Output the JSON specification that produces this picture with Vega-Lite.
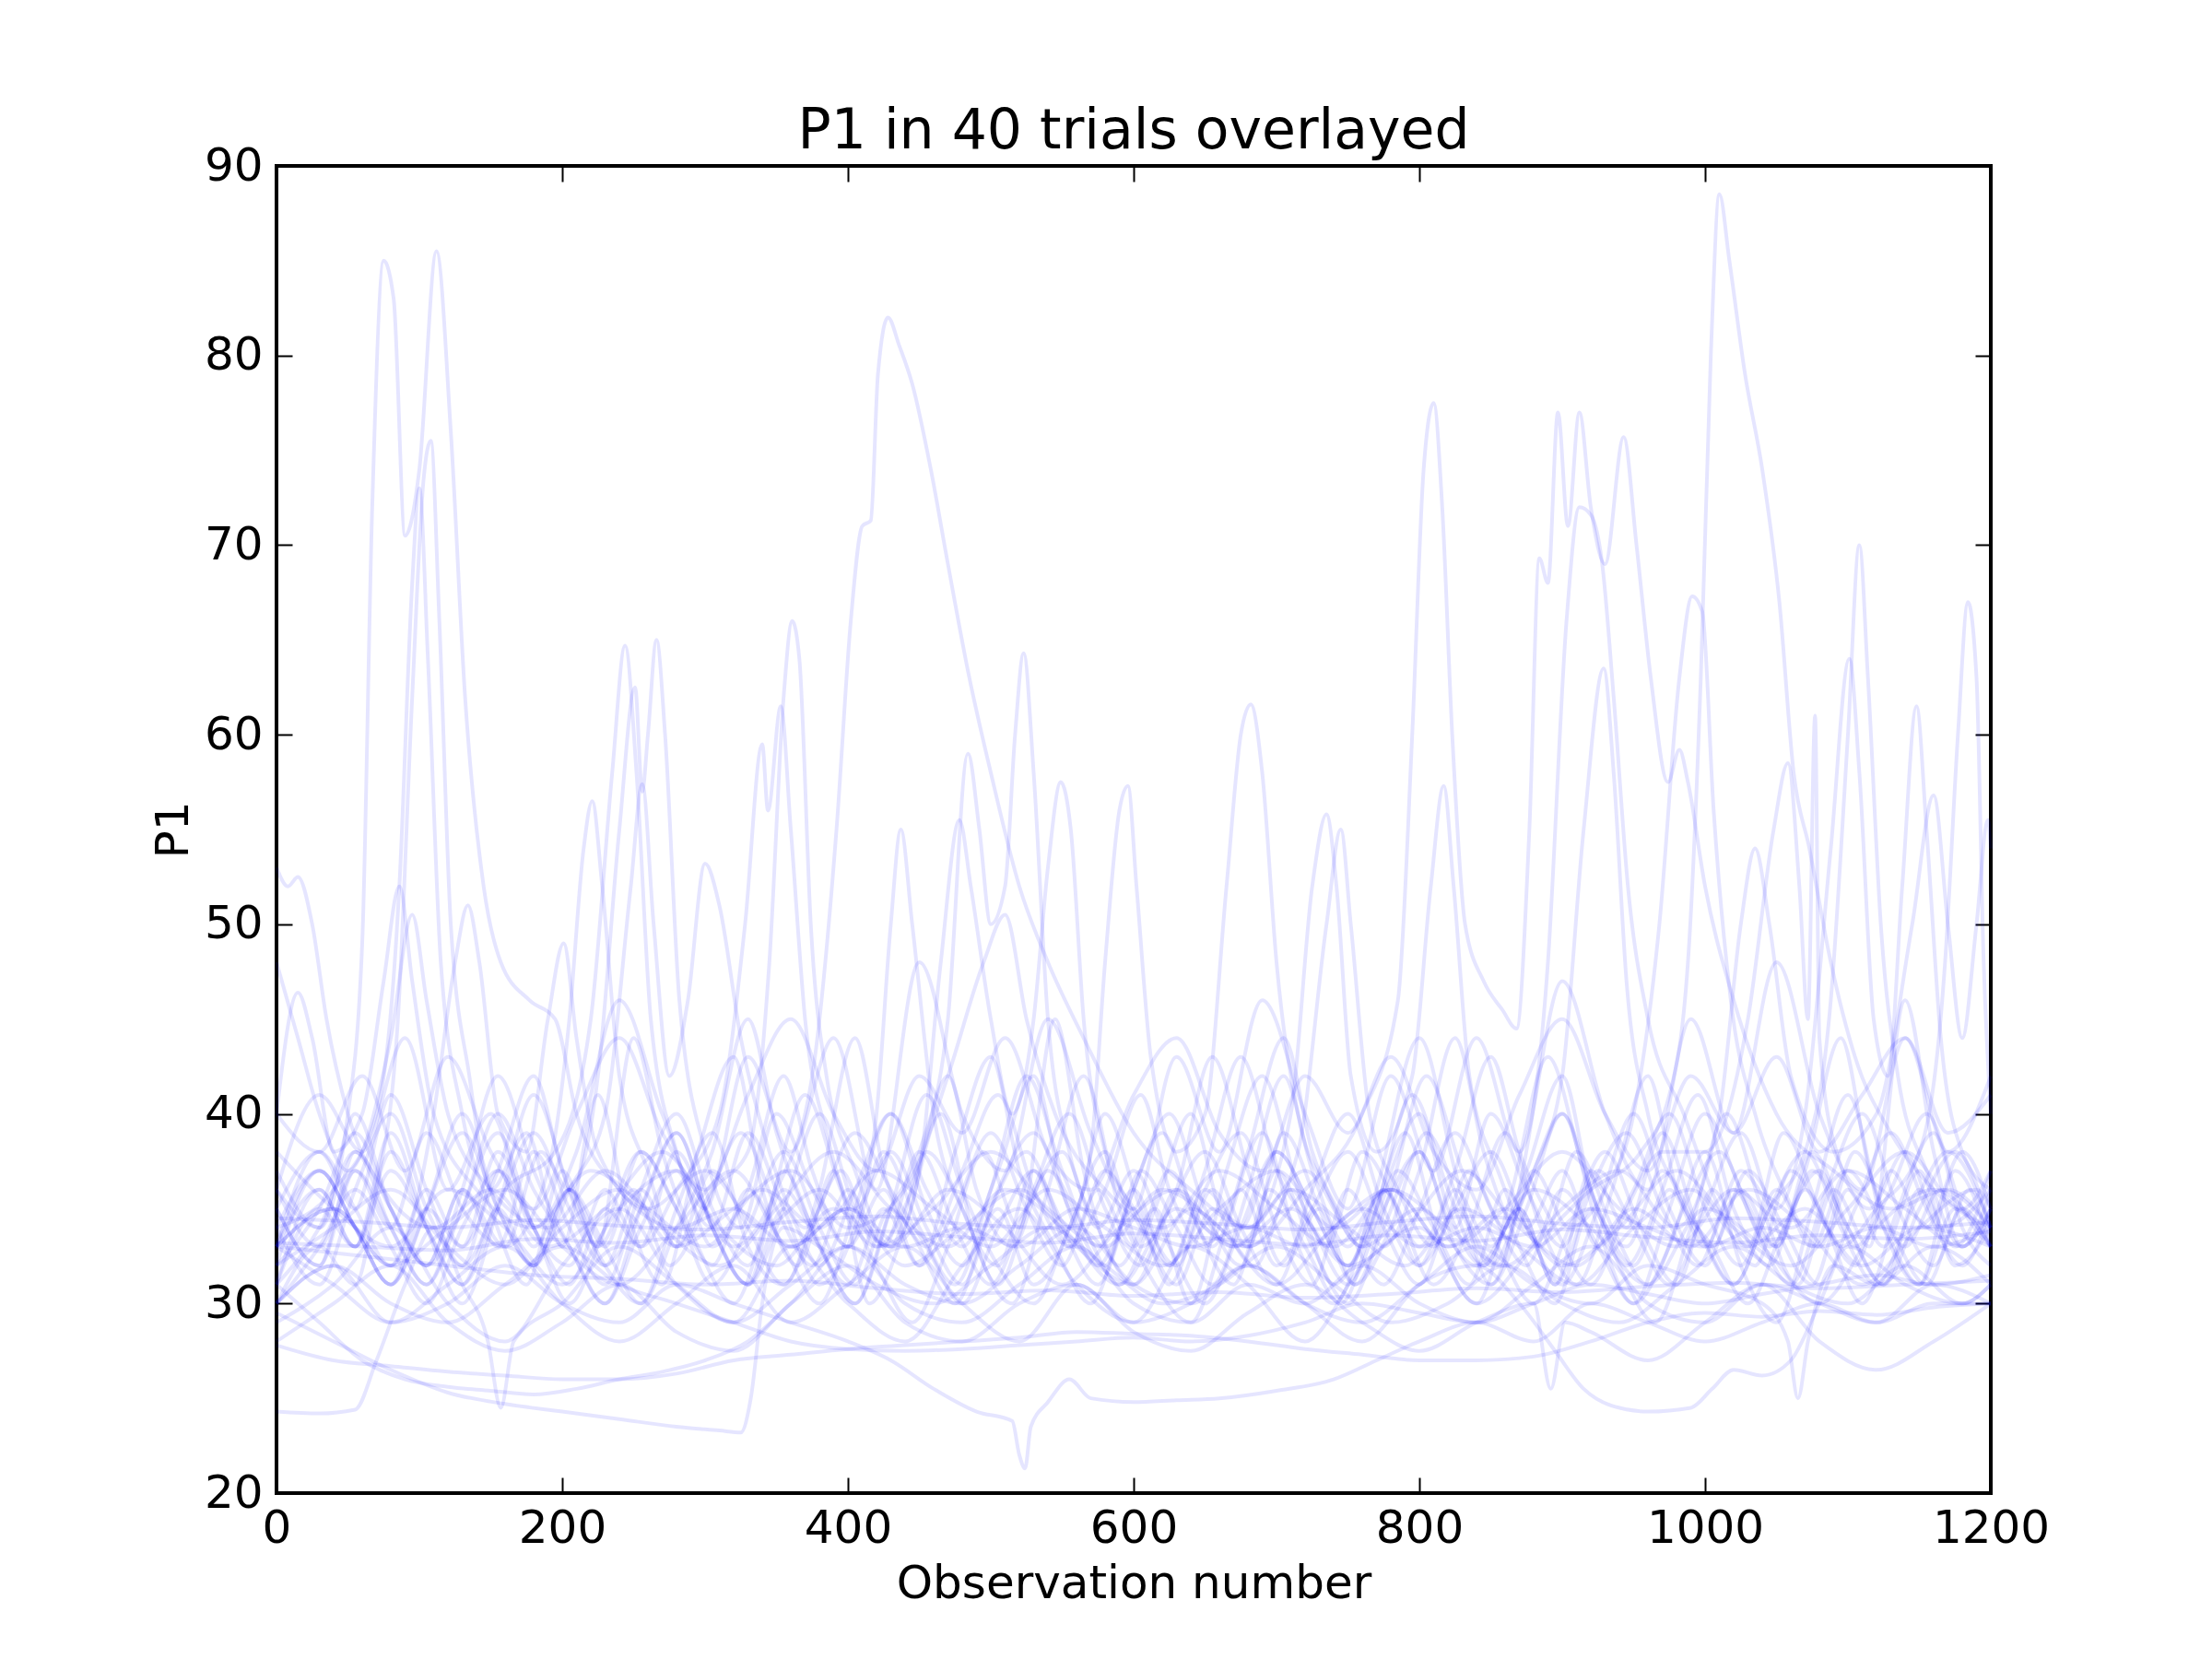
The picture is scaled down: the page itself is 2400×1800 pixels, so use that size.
{
"$schema":"https://vega.github.io/schema/vega-lite/v6.json",
"autosize":{"type":"none"},
"padding":{"left":300,"top":180,"right":240,"bottom":180},
"width":1860,"height":1440,
"background":"white",
"config":{"font":"DejaVu Sans","view":{"stroke":"black","strokeWidth":4}},
"title":{"text":"P1 in 40 trials overlayed","fontSize":60,"font":"DejaVu Sans","fontWeight":"normal","color":"black","anchor":"middle","baseline":"alphabetic","offset":-66},
"data":{"values":[
{"t":1,"x":0,"y":36},{"t":1,"x":30,"y":34},{"t":1,"x":50,"y":40},{"t":1,"x":60,"y":49},{"t":1,"x":67,"y":72},{"t":1,"x":75,"y":85},{"t":1,"x":82,"y":83},{"t":1,"x":90,"y":70.5},{"t":1,"x":100,"y":74},{"t":1,"x":112,"y":85.5},{"t":1,"x":122,"y":76},{"t":1,"x":132,"y":62},{"t":1,"x":145,"y":52},{"t":1,"x":157,"y":48},{"t":1,"x":177,"y":46},{"t":1,"x":195,"y":45},{"t":1,"x":210,"y":40},{"t":1,"x":240,"y":36},{"t":1,"x":280,"y":34},{"t":1,"x":320,"y":35},{"t":1,"x":360,"y":33},{"t":1,"x":400,"y":35},{"t":1,"x":440,"y":33},{"t":1,"x":480,"y":34},{"t":1,"x":520,"y":33},{"t":1,"x":560,"y":35},{"t":1,"x":600,"y":34},{"t":1,"x":640,"y":33},{"t":1,"x":680,"y":34},{"t":1,"x":720,"y":33},{"t":1,"x":760,"y":35},{"t":1,"x":800,"y":33},{"t":1,"x":840,"y":34},{"t":1,"x":880,"y":33},{"t":1,"x":920,"y":35},{"t":1,"x":960,"y":34},{"t":1,"x":1000,"y":33},{"t":1,"x":1040,"y":34},{"t":1,"x":1080,"y":33},{"t":1,"x":1120,"y":34},{"t":1,"x":1160,"y":33},{"t":1,"x":1200,"y":34},
{"t":2,"x":0,"y":30},{"t":2,"x":30,"y":33},{"t":2,"x":55,"y":31},{"t":2,"x":70,"y":36},{"t":2,"x":85,"y":45},{"t":2,"x":95,"y":62},{"t":2,"x":103,"y":73.5},{"t":2,"x":108,"y":75.5},{"t":2,"x":114,"y":66},{"t":2,"x":122,"y":50},{"t":2,"x":135,"y":42},{"t":2,"x":150,"y":36},{"t":2,"x":175,"y":39},{"t":2,"x":200,"y":33},{"t":2,"x":225,"y":41},{"t":2,"x":245,"y":35},{"t":2,"x":270,"y":31},{"t":2,"x":295,"y":38},{"t":2,"x":320,"y":43},{"t":2,"x":340,"y":36},{"t":2,"x":365,"y":32},{"t":2,"x":390,"y":37},{"t":2,"x":415,"y":30},{"t":2,"x":440,"y":34},{"t":2,"x":465,"y":40},{"t":2,"x":490,"y":33},{"t":2,"x":515,"y":30},{"t":2,"x":540,"y":36},{"t":2,"x":565,"y":42},{"t":2,"x":590,"y":35},{"t":2,"x":615,"y":31},{"t":2,"x":640,"y":29},{"t":2,"x":665,"y":34},{"t":2,"x":690,"y":39},{"t":2,"x":715,"y":33},{"t":2,"x":740,"y":30},{"t":2,"x":770,"y":36},{"t":2,"x":800,"y":44},{"t":2,"x":825,"y":37},{"t":2,"x":850,"y":31},{"t":2,"x":875,"y":35},{"t":2,"x":900,"y":40},{"t":2,"x":925,"y":34},{"t":2,"x":950,"y":30},{"t":2,"x":975,"y":33},{"t":2,"x":1000,"y":38},{"t":2,"x":1025,"y":32},{"t":2,"x":1050,"y":29},{"t":2,"x":1075,"y":35},{"t":2,"x":1100,"y":41},{"t":2,"x":1125,"y":34},{"t":2,"x":1150,"y":31},{"t":2,"x":1175,"y":37},{"t":2,"x":1200,"y":33},
{"t":3,"x":0,"y":34},{"t":3,"x":40,"y":36},{"t":3,"x":70,"y":40},{"t":3,"x":86,"y":52},{"t":3,"x":95,"y":68},{"t":3,"x":100,"y":73},{"t":3,"x":106,"y":64},{"t":3,"x":115,"y":48},{"t":3,"x":130,"y":40},{"t":3,"x":150,"y":35},{"t":3,"x":175,"y":31},{"t":3,"x":200,"y":37},{"t":3,"x":225,"y":33},{"t":3,"x":250,"y":44},{"t":3,"x":270,"y":38},{"t":3,"x":295,"y":33},{"t":3,"x":320,"y":30},{"t":3,"x":345,"y":35},{"t":3,"x":370,"y":41},{"t":3,"x":395,"y":36},{"t":3,"x":420,"y":32},{"t":3,"x":445,"y":29},{"t":3,"x":470,"y":33},{"t":3,"x":495,"y":38},{"t":3,"x":520,"y":34},{"t":3,"x":545,"y":45},{"t":3,"x":565,"y":37},{"t":3,"x":590,"y":32},{"t":3,"x":615,"y":35},{"t":3,"x":640,"y":30},{"t":3,"x":665,"y":37},{"t":3,"x":690,"y":42},{"t":3,"x":715,"y":36},{"t":3,"x":740,"y":31},{"t":3,"x":765,"y":34},{"t":3,"x":790,"y":39},{"t":3,"x":815,"y":33},{"t":3,"x":840,"y":30},{"t":3,"x":865,"y":36},{"t":3,"x":890,"y":43},{"t":3,"x":915,"y":37},{"t":3,"x":940,"y":32},{"t":3,"x":965,"y":29},{"t":3,"x":990,"y":34},{"t":3,"x":1015,"y":40},{"t":3,"x":1040,"y":35},{"t":3,"x":1065,"y":31},{"t":3,"x":1090,"y":36},{"t":3,"x":1115,"y":33},{"t":3,"x":1140,"y":46},{"t":3,"x":1160,"y":38},{"t":3,"x":1180,"y":33},{"t":3,"x":1200,"y":35},
{"t":4,"x":0,"y":38},{"t":4,"x":40,"y":35},{"t":4,"x":80,"y":33},{"t":4,"x":120,"y":36},{"t":4,"x":160,"y":34},{"t":4,"x":200,"y":31},{"t":4,"x":240,"y":35},{"t":4,"x":280,"y":37},{"t":4,"x":320,"y":33},{"t":4,"x":350,"y":36},{"t":4,"x":375,"y":42},{"t":4,"x":392,"y":55},{"t":4,"x":402,"y":66},{"t":4,"x":410,"y":71},{"t":4,"x":416,"y":71.3},{"t":4,"x":421,"y":79},{"t":4,"x":428,"y":82},{"t":4,"x":436,"y":80.5},{"t":4,"x":445,"y":78.5},{"t":4,"x":458,"y":74},{"t":4,"x":470,"y":69},{"t":4,"x":485,"y":63},{"t":4,"x":500,"y":58},{"t":4,"x":520,"y":52},{"t":4,"x":540,"y":48},{"t":4,"x":565,"y":44},{"t":4,"x":600,"y":39},{"t":4,"x":640,"y":36},{"t":4,"x":680,"y":34},{"t":4,"x":720,"y":37},{"t":4,"x":760,"y":33},{"t":4,"x":800,"y":35},{"t":4,"x":840,"y":32},{"t":4,"x":880,"y":36},{"t":4,"x":920,"y":34},{"t":4,"x":960,"y":31},{"t":4,"x":1000,"y":35},{"t":4,"x":1040,"y":33},{"t":4,"x":1080,"y":30},{"t":4,"x":1120,"y":34},{"t":4,"x":1160,"y":36},{"t":4,"x":1200,"y":33},
{"t":5,"x":0,"y":29},{"t":5,"x":40,"y":31},{"t":5,"x":80,"y":34},{"t":5,"x":120,"y":30},{"t":5,"x":160,"y":28},{"t":5,"x":200,"y":32},{"t":5,"x":240,"y":35},{"t":5,"x":280,"y":31},{"t":5,"x":320,"y":29},{"t":5,"x":360,"y":33},{"t":5,"x":400,"y":30},{"t":5,"x":440,"y":28},{"t":5,"x":480,"y":32},{"t":5,"x":520,"y":35},{"t":5,"x":560,"y":31},{"t":5,"x":600,"y":29},{"t":5,"x":640,"y":33},{"t":5,"x":680,"y":31},{"t":5,"x":720,"y":28},{"t":5,"x":760,"y":32},{"t":5,"x":800,"y":34},{"t":5,"x":840,"y":30},{"t":5,"x":880,"y":33},{"t":5,"x":920,"y":36},{"t":5,"x":955,"y":38},{"t":5,"x":975,"y":41},{"t":5,"x":988,"y":48},{"t":5,"x":997,"y":63},{"t":5,"x":1004,"y":80},{"t":5,"x":1010,"y":88.5},{"t":5,"x":1017,"y":85},{"t":5,"x":1028,"y":79},{"t":5,"x":1040,"y":74},{"t":5,"x":1052,"y":67},{"t":5,"x":1062,"y":58},{"t":5,"x":1073,"y":54},{"t":5,"x":1088,"y":48},{"t":5,"x":1105,"y":43},{"t":5,"x":1130,"y":39},{"t":5,"x":1160,"y":36},{"t":5,"x":1200,"y":34},
{"t":6,"x":0,"y":33},{"t":6,"x":40,"y":35},{"t":6,"x":80,"y":32},{"t":6,"x":120,"y":34},{"t":6,"x":160,"y":36},{"t":6,"x":200,"y":33},{"t":6,"x":240,"y":31},{"t":6,"x":280,"y":34},{"t":6,"x":320,"y":37},{"t":6,"x":360,"y":33},{"t":6,"x":400,"y":35},{"t":6,"x":440,"y":32},{"t":6,"x":480,"y":34},{"t":6,"x":520,"y":36},{"t":6,"x":560,"y":33},{"t":6,"x":600,"y":31},{"t":6,"x":640,"y":35},{"t":6,"x":680,"y":33},{"t":6,"x":720,"y":36},{"t":6,"x":760,"y":40},{"t":6,"x":785,"y":46},{"t":6,"x":795,"y":60},{"t":6,"x":803,"y":74},{"t":6,"x":810,"y":77.5},{"t":6,"x":816,"y":72},{"t":6,"x":823,"y":60},{"t":6,"x":832,"y":50},{"t":6,"x":845,"y":47},{"t":6,"x":858,"y":45.5},{"t":6,"x":868,"y":44.5},{"t":6,"x":877,"y":55},{"t":6,"x":884,"y":69.3},{"t":6,"x":890,"y":68},{"t":6,"x":897,"y":77},{"t":6,"x":904,"y":71},{"t":6,"x":912,"y":77},{"t":6,"x":920,"y":72},{"t":6,"x":930,"y":69},{"t":6,"x":943,"y":75.7},{"t":6,"x":952,"y":70},{"t":6,"x":962,"y":63},{"t":6,"x":974,"y":57.5},{"t":6,"x":982,"y":59.2},{"t":6,"x":988,"y":57.5},{"t":6,"x":1000,"y":52},{"t":6,"x":1020,"y":46},{"t":6,"x":1050,"y":40},{"t":6,"x":1090,"y":37},{"t":6,"x":1130,"y":35},{"t":6,"x":1170,"y":36},{"t":6,"x":1200,"y":34},
{"t":7,"x":0,"y":31},{"t":7,"x":30,"y":36},{"t":7,"x":55,"y":33},{"t":7,"x":80,"y":39},{"t":7,"x":105,"y":34},{"t":7,"x":130,"y":30},{"t":7,"x":155,"y":35},{"t":7,"x":180,"y":41},{"t":7,"x":205,"y":36},{"t":7,"x":230,"y":32},{"t":7,"x":255,"y":30},{"t":7,"x":280,"y":35},{"t":7,"x":305,"y":39},{"t":7,"x":330,"y":33},{"t":7,"x":355,"y":31},{"t":7,"x":380,"y":36},{"t":7,"x":405,"y":44},{"t":7,"x":425,"y":37},{"t":7,"x":450,"y":33},{"t":7,"x":475,"y":30},{"t":7,"x":500,"y":35},{"t":7,"x":525,"y":38},{"t":7,"x":550,"y":34},{"t":7,"x":575,"y":31},{"t":7,"x":600,"y":36},{"t":7,"x":625,"y":40},{"t":7,"x":650,"y":35},{"t":7,"x":675,"y":32},{"t":7,"x":700,"y":37},{"t":7,"x":725,"y":33},{"t":7,"x":750,"y":30},{"t":7,"x":775,"y":34},{"t":7,"x":800,"y":38},{"t":7,"x":825,"y":33},{"t":7,"x":850,"y":31},{"t":7,"x":870,"y":36},{"t":7,"x":890,"y":48},{"t":7,"x":903,"y":66},{"t":7,"x":912,"y":72},{"t":7,"x":920,"y":71.6},{"t":7,"x":928,"y":69},{"t":7,"x":936,"y":62},{"t":7,"x":946,"y":52},{"t":7,"x":960,"y":45},{"t":7,"x":985,"y":40},{"t":7,"x":1010,"y":35},{"t":7,"x":1035,"y":32},{"t":7,"x":1060,"y":37},{"t":7,"x":1085,"y":34},{"t":7,"x":1110,"y":30},{"t":7,"x":1135,"y":35},{"t":7,"x":1160,"y":39},{"t":7,"x":1180,"y":34},{"t":7,"x":1200,"y":32},
{"t":8,"x":0,"y":35},{"t":8,"x":30,"y":32},{"t":8,"x":55,"y":38},{"t":8,"x":80,"y":34},{"t":8,"x":105,"y":31},{"t":8,"x":130,"y":36},{"t":8,"x":155,"y":42},{"t":8,"x":180,"y":37},{"t":8,"x":205,"y":33},{"t":8,"x":230,"y":30},{"t":8,"x":255,"y":35},{"t":8,"x":280,"y":39},{"t":8,"x":305,"y":34},{"t":8,"x":330,"y":31},{"t":8,"x":355,"y":37},{"t":8,"x":380,"y":33},{"t":8,"x":405,"y":30},{"t":8,"x":430,"y":35},{"t":8,"x":455,"y":41},{"t":8,"x":480,"y":36},{"t":8,"x":505,"y":32},{"t":8,"x":530,"y":30},{"t":8,"x":555,"y":34},{"t":8,"x":580,"y":38},{"t":8,"x":605,"y":33},{"t":8,"x":630,"y":36},{"t":8,"x":655,"y":43},{"t":8,"x":680,"y":37},{"t":8,"x":705,"y":32},{"t":8,"x":730,"y":35},{"t":8,"x":755,"y":31},{"t":8,"x":780,"y":34},{"t":8,"x":805,"y":39},{"t":8,"x":830,"y":35},{"t":8,"x":855,"y":32},{"t":8,"x":880,"y":37},{"t":8,"x":905,"y":34},{"t":8,"x":930,"y":36},{"t":8,"x":950,"y":40},{"t":8,"x":968,"y":50},{"t":8,"x":982,"y":63},{"t":8,"x":991,"y":67.3},{"t":8,"x":998,"y":66.5},{"t":8,"x":1006,"y":56},{"t":8,"x":1018,"y":46},{"t":8,"x":1035,"y":40},{"t":8,"x":1055,"y":36},{"t":8,"x":1080,"y":33},{"t":8,"x":1105,"y":38},{"t":8,"x":1130,"y":34},{"t":8,"x":1155,"y":31},{"t":8,"x":1180,"y":35},{"t":8,"x":1200,"y":33},
{"t":9,"x":0,"y":32},{"t":9,"x":30,"y":37},{"t":9,"x":55,"y":34},{"t":9,"x":80,"y":31},{"t":9,"x":105,"y":35},{"t":9,"x":130,"y":40},{"t":9,"x":155,"y":35},{"t":9,"x":180,"y":32},{"t":9,"x":205,"y":36},{"t":9,"x":230,"y":33},{"t":9,"x":255,"y":30},{"t":9,"x":280,"y":34},{"t":9,"x":305,"y":38},{"t":9,"x":330,"y":45},{"t":9,"x":350,"y":39},{"t":9,"x":375,"y":34},{"t":9,"x":400,"y":31},{"t":9,"x":425,"y":35},{"t":9,"x":450,"y":32},{"t":9,"x":475,"y":38},{"t":9,"x":500,"y":43},{"t":9,"x":520,"y":37},{"t":9,"x":545,"y":33},{"t":9,"x":570,"y":30},{"t":9,"x":595,"y":35},{"t":9,"x":620,"y":39},{"t":9,"x":645,"y":34},{"t":9,"x":670,"y":31},{"t":9,"x":695,"y":36},{"t":9,"x":720,"y":33},{"t":9,"x":745,"y":30},{"t":9,"x":770,"y":35},{"t":9,"x":795,"y":41},{"t":9,"x":820,"y":36},{"t":9,"x":845,"y":32},{"t":9,"x":870,"y":35},{"t":9,"x":895,"y":31},{"t":9,"x":920,"y":37},{"t":9,"x":945,"y":34},{"t":9,"x":970,"y":39},{"t":9,"x":995,"y":34},{"t":9,"x":1020,"y":31},{"t":9,"x":1045,"y":35},{"t":9,"x":1070,"y":38},{"t":9,"x":1088,"y":46},{"t":9,"x":1100,"y":60},{"t":9,"x":1108,"y":70},{"t":9,"x":1114,"y":63},{"t":9,"x":1123,"y":50},{"t":9,"x":1135,"y":42},{"t":9,"x":1155,"y":37},{"t":9,"x":1180,"y":33},{"t":9,"x":1200,"y":36},
{"t":10,"x":0,"y":34},{"t":10,"x":30,"y":31},{"t":10,"x":55,"y":36},{"t":10,"x":80,"y":40},{"t":10,"x":105,"y":35},{"t":10,"x":130,"y":32},{"t":10,"x":155,"y":37},{"t":10,"x":180,"y":34},{"t":10,"x":205,"y":30},{"t":10,"x":230,"y":34},{"t":10,"x":255,"y":38},{"t":10,"x":280,"y":35},{"t":10,"x":305,"y":32},{"t":10,"x":330,"y":36},{"t":10,"x":355,"y":33},{"t":10,"x":380,"y":30},{"t":10,"x":405,"y":35},{"t":10,"x":430,"y":40},{"t":10,"x":455,"y":36},{"t":10,"x":480,"y":33},{"t":10,"x":505,"y":37},{"t":10,"x":530,"y":42},{"t":10,"x":550,"y":36},{"t":10,"x":575,"y":32},{"t":10,"x":600,"y":35},{"t":10,"x":625,"y":31},{"t":10,"x":650,"y":36},{"t":10,"x":675,"y":39},{"t":10,"x":700,"y":34},{"t":10,"x":725,"y":31},{"t":10,"x":750,"y":36},{"t":10,"x":775,"y":33},{"t":10,"x":800,"y":37},{"t":10,"x":825,"y":44},{"t":10,"x":845,"y":38},{"t":10,"x":870,"y":33},{"t":10,"x":895,"y":30},{"t":10,"x":920,"y":35},{"t":10,"x":945,"y":32},{"t":10,"x":970,"y":36},{"t":10,"x":995,"y":41},{"t":10,"x":1020,"y":35},{"t":10,"x":1045,"y":32},{"t":10,"x":1070,"y":36},{"t":10,"x":1095,"y":33},{"t":10,"x":1120,"y":35},{"t":10,"x":1150,"y":38},{"t":10,"x":1168,"y":48},{"t":10,"x":1177,"y":60},{"t":10,"x":1184,"y":67},{"t":10,"x":1190,"y":63},{"t":10,"x":1195,"y":48},{"t":10,"x":1200,"y":40},
{"t":11,"x":0,"y":33},{"t":11,"x":30,"y":38},{"t":11,"x":55,"y":35},{"t":11,"x":80,"y":41},{"t":11,"x":105,"y":36},{"t":11,"x":130,"y":32},{"t":11,"x":160,"y":36},{"t":11,"x":195,"y":38},{"t":11,"x":220,"y":45},{"t":11,"x":235,"y":58},{"t":11,"x":244,"y":64.7},{"t":11,"x":252,"y":58},{"t":11,"x":262,"y":45},{"t":11,"x":280,"y":38},{"t":11,"x":305,"y":34},{"t":11,"x":330,"y":39},{"t":11,"x":355,"y":35},{"t":11,"x":380,"y":31},{"t":11,"x":400,"y":33},{"t":11,"x":420,"y":40},{"t":11,"x":430,"y":50},{"t":11,"x":437,"y":55},{"t":11,"x":445,"y":50},{"t":11,"x":460,"y":40},{"t":11,"x":480,"y":35},{"t":11,"x":505,"y":32},{"t":11,"x":530,"y":37},{"t":11,"x":555,"y":34},{"t":11,"x":580,"y":40},{"t":11,"x":605,"y":35},{"t":11,"x":630,"y":32},{"t":11,"x":655,"y":36},{"t":11,"x":680,"y":33},{"t":11,"x":705,"y":39},{"t":11,"x":730,"y":35},{"t":11,"x":755,"y":31},{"t":11,"x":780,"y":36},{"t":11,"x":805,"y":42},{"t":11,"x":830,"y":37},{"t":11,"x":855,"y":33},{"t":11,"x":880,"y":30},{"t":11,"x":905,"y":34},{"t":11,"x":930,"y":38},{"t":11,"x":955,"y":34},{"t":11,"x":980,"y":31},{"t":11,"x":1005,"y":36},{"t":11,"x":1030,"y":33},{"t":11,"x":1055,"y":39},{"t":11,"x":1080,"y":35},{"t":11,"x":1105,"y":32},{"t":11,"x":1130,"y":37},{"t":11,"x":1155,"y":34},{"t":11,"x":1180,"y":38},{"t":11,"x":1200,"y":35},
{"t":12,"x":0,"y":37},{"t":12,"x":30,"y":34},{"t":12,"x":55,"y":40},{"t":12,"x":80,"y":35},{"t":12,"x":105,"y":32},{"t":12,"x":130,"y":36},{"t":12,"x":160,"y":33},{"t":12,"x":185,"y":38},{"t":12,"x":205,"y":36},{"t":12,"x":225,"y":42},{"t":12,"x":240,"y":55},{"t":12,"x":251,"y":62.5},{"t":12,"x":256,"y":57},{"t":12,"x":260,"y":60},{"t":12,"x":266,"y":65},{"t":12,"x":272,"y":60},{"t":12,"x":282,"y":46},{"t":12,"x":300,"y":38},{"t":12,"x":325,"y":34},{"t":12,"x":350,"y":40},{"t":12,"x":375,"y":36},{"t":12,"x":400,"y":33},{"t":12,"x":425,"y":38},{"t":12,"x":450,"y":34},{"t":12,"x":475,"y":31},{"t":12,"x":500,"y":36},{"t":12,"x":525,"y":42},{"t":12,"x":550,"y":37},{"t":12,"x":575,"y":33},{"t":12,"x":600,"y":36},{"t":12,"x":625,"y":32},{"t":12,"x":650,"y":37},{"t":12,"x":675,"y":43},{"t":12,"x":700,"y":37},{"t":12,"x":725,"y":34},{"t":12,"x":750,"y":31},{"t":12,"x":775,"y":35},{"t":12,"x":800,"y":38},{"t":12,"x":825,"y":34},{"t":12,"x":850,"y":40},{"t":12,"x":875,"y":36},{"t":12,"x":900,"y":33},{"t":12,"x":925,"y":37},{"t":12,"x":950,"y":34},{"t":12,"x":975,"y":31},{"t":12,"x":1000,"y":35},{"t":12,"x":1025,"y":39},{"t":12,"x":1050,"y":34},{"t":12,"x":1075,"y":31},{"t":12,"x":1100,"y":36},{"t":12,"x":1125,"y":33},{"t":12,"x":1150,"y":37},{"t":12,"x":1175,"y":32},{"t":12,"x":1200,"y":34},
{"t":13,"x":0,"y":31},{"t":13,"x":30,"y":35},{"t":13,"x":55,"y":33},{"t":13,"x":80,"y":38},{"t":13,"x":105,"y":34},{"t":13,"x":130,"y":31},{"t":13,"x":155,"y":35},{"t":13,"x":180,"y":32},{"t":13,"x":205,"y":36},{"t":13,"x":230,"y":40},{"t":13,"x":248,"y":52},{"t":13,"x":256,"y":57.4},{"t":13,"x":264,"y":50},{"t":13,"x":275,"y":42},{"t":13,"x":288,"y":46},{"t":13,"x":300,"y":53.2},{"t":13,"x":310,"y":51},{"t":13,"x":325,"y":44},{"t":13,"x":345,"y":38},{"t":13,"x":370,"y":34},{"t":13,"x":395,"y":37},{"t":13,"x":420,"y":33},{"t":13,"x":445,"y":36},{"t":13,"x":470,"y":42},{"t":13,"x":490,"y":36},{"t":13,"x":515,"y":33},{"t":13,"x":540,"y":37},{"t":13,"x":565,"y":34},{"t":13,"x":590,"y":31},{"t":13,"x":615,"y":35},{"t":13,"x":640,"y":40},{"t":13,"x":660,"y":35},{"t":13,"x":685,"y":32},{"t":13,"x":710,"y":36},{"t":13,"x":735,"y":33},{"t":13,"x":760,"y":38},{"t":13,"x":785,"y":35},{"t":13,"x":810,"y":31},{"t":13,"x":835,"y":34},{"t":13,"x":860,"y":39},{"t":13,"x":885,"y":34},{"t":13,"x":910,"y":31},{"t":13,"x":935,"y":36},{"t":13,"x":960,"y":42},{"t":13,"x":980,"y":36},{"t":13,"x":1005,"y":33},{"t":13,"x":1030,"y":30},{"t":13,"x":1055,"y":34},{"t":13,"x":1080,"y":37},{"t":13,"x":1105,"y":33},{"t":13,"x":1130,"y":36},{"t":13,"x":1155,"y":40},{"t":13,"x":1180,"y":35},{"t":13,"x":1200,"y":33},
{"t":14,"x":0,"y":35},{"t":14,"x":30,"y":32},{"t":14,"x":55,"y":37},{"t":14,"x":80,"y":34},{"t":14,"x":105,"y":39},{"t":14,"x":130,"y":35},{"t":14,"x":160,"y":33},{"t":14,"x":190,"y":37},{"t":14,"x":205,"y":45},{"t":14,"x":215,"y":54},{"t":14,"x":221,"y":56.5},{"t":14,"x":228,"y":52},{"t":14,"x":240,"y":42},{"t":14,"x":260,"y":37},{"t":14,"x":280,"y":33},{"t":14,"x":305,"y":36},{"t":14,"x":330,"y":38},{"t":14,"x":345,"y":48},{"t":14,"x":355,"y":62},{"t":14,"x":361,"y":66},{"t":14,"x":366,"y":64},{"t":14,"x":374,"y":50},{"t":14,"x":385,"y":42},{"t":14,"x":405,"y":37},{"t":14,"x":430,"y":33},{"t":14,"x":455,"y":38},{"t":14,"x":480,"y":35},{"t":14,"x":505,"y":31},{"t":14,"x":530,"y":36},{"t":14,"x":555,"y":40},{"t":14,"x":580,"y":35},{"t":14,"x":605,"y":32},{"t":14,"x":630,"y":36},{"t":14,"x":655,"y":33},{"t":14,"x":680,"y":38},{"t":14,"x":705,"y":44},{"t":14,"x":725,"y":38},{"t":14,"x":750,"y":34},{"t":14,"x":775,"y":31},{"t":14,"x":800,"y":35},{"t":14,"x":825,"y":39},{"t":14,"x":850,"y":35},{"t":14,"x":875,"y":32},{"t":14,"x":900,"y":36},{"t":14,"x":925,"y":33},{"t":14,"x":950,"y":30},{"t":14,"x":975,"y":35},{"t":14,"x":1000,"y":40},{"t":14,"x":1025,"y":36},{"t":14,"x":1050,"y":33},{"t":14,"x":1075,"y":37},{"t":14,"x":1100,"y":34},{"t":14,"x":1125,"y":31},{"t":14,"x":1150,"y":36},{"t":14,"x":1175,"y":33},{"t":14,"x":1200,"y":37},
{"t":15,"x":0,"y":33},{"t":15,"x":30,"y":37},{"t":15,"x":55,"y":34},{"t":15,"x":80,"y":31},{"t":15,"x":105,"y":35},{"t":15,"x":130,"y":33},{"t":15,"x":155,"y":38},{"t":15,"x":180,"y":34},{"t":15,"x":205,"y":31},{"t":15,"x":230,"y":35},{"t":15,"x":255,"y":33},{"t":15,"x":280,"y":36},{"t":15,"x":310,"y":40},{"t":15,"x":328,"y":50},{"t":15,"x":340,"y":59.5},{"t":15,"x":344,"y":56},{"t":15,"x":353,"y":61.5},{"t":15,"x":360,"y":55},{"t":15,"x":370,"y":45},{"t":15,"x":385,"y":39},{"t":15,"x":405,"y":35},{"t":15,"x":430,"y":38},{"t":15,"x":455,"y":34},{"t":15,"x":480,"y":31},{"t":15,"x":505,"y":36},{"t":15,"x":530,"y":39},{"t":15,"x":555,"y":35},{"t":15,"x":580,"y":32},{"t":15,"x":605,"y":37},{"t":15,"x":630,"y":34},{"t":15,"x":655,"y":31},{"t":15,"x":680,"y":36},{"t":15,"x":705,"y":42},{"t":15,"x":725,"y":37},{"t":15,"x":750,"y":33},{"t":15,"x":775,"y":36},{"t":15,"x":800,"y":32},{"t":15,"x":825,"y":35},{"t":15,"x":850,"y":38},{"t":15,"x":875,"y":34},{"t":15,"x":900,"y":31},{"t":15,"x":925,"y":35},{"t":15,"x":950,"y":40},{"t":15,"x":975,"y":35},{"t":15,"x":1000,"y":32},{"t":15,"x":1025,"y":36},{"t":15,"x":1050,"y":33},{"t":15,"x":1075,"y":38},{"t":15,"x":1100,"y":34},{"t":15,"x":1125,"y":31},{"t":15,"x":1150,"y":35},{"t":15,"x":1175,"y":38},{"t":15,"x":1200,"y":34},
{"t":16,"x":0,"y":32},{"t":16,"x":30,"y":35},{"t":16,"x":55,"y":39},{"t":16,"x":80,"y":35},{"t":16,"x":105,"y":32},{"t":16,"x":130,"y":36},{"t":16,"x":155,"y":33},{"t":16,"x":180,"y":38},{"t":16,"x":205,"y":34},{"t":16,"x":230,"y":31},{"t":16,"x":255,"y":36},{"t":16,"x":280,"y":40},{"t":16,"x":305,"y":35},{"t":16,"x":330,"y":32},{"t":16,"x":355,"y":36},{"t":16,"x":380,"y":33},{"t":16,"x":405,"y":30},{"t":16,"x":430,"y":35},{"t":16,"x":450,"y":38},{"t":16,"x":470,"y":45},{"t":16,"x":484,"y":59},{"t":16,"x":492,"y":55},{"t":16,"x":500,"y":50},{"t":16,"x":510,"y":52},{"t":16,"x":517,"y":60},{"t":16,"x":523,"y":64.3},{"t":16,"x":530,"y":58},{"t":16,"x":540,"y":45},{"t":16,"x":555,"y":38},{"t":16,"x":575,"y":34},{"t":16,"x":600,"y":31},{"t":16,"x":625,"y":35},{"t":16,"x":650,"y":38},{"t":16,"x":675,"y":34},{"t":16,"x":700,"y":31},{"t":16,"x":725,"y":36},{"t":16,"x":750,"y":40},{"t":16,"x":775,"y":35},{"t":16,"x":800,"y":32},{"t":16,"x":825,"y":36},{"t":16,"x":850,"y":33},{"t":16,"x":875,"y":37},{"t":16,"x":900,"y":42},{"t":16,"x":920,"y":36},{"t":16,"x":945,"y":33},{"t":16,"x":970,"y":37},{"t":16,"x":995,"y":34},{"t":16,"x":1020,"y":31},{"t":16,"x":1045,"y":35},{"t":16,"x":1070,"y":38},{"t":16,"x":1095,"y":34},{"t":16,"x":1120,"y":31},{"t":16,"x":1145,"y":35},{"t":16,"x":1170,"y":38},{"t":16,"x":1200,"y":34},
{"t":17,"x":0,"y":36},{"t":17,"x":30,"y":33},{"t":17,"x":55,"y":37},{"t":17,"x":80,"y":34},{"t":17,"x":105,"y":31},{"t":17,"x":130,"y":35},{"t":17,"x":155,"y":39},{"t":17,"x":180,"y":34},{"t":17,"x":205,"y":32},{"t":17,"x":230,"y":36},{"t":17,"x":255,"y":33},{"t":17,"x":280,"y":38},{"t":17,"x":305,"y":34},{"t":17,"x":330,"y":31},{"t":17,"x":355,"y":35},{"t":17,"x":380,"y":40},{"t":17,"x":405,"y":35},{"t":17,"x":430,"y":33},{"t":17,"x":450,"y":37},{"t":17,"x":465,"y":48},{"t":17,"x":478,"y":55.5},{"t":17,"x":486,"y":52},{"t":17,"x":500,"y":45},{"t":17,"x":515,"y":40},{"t":17,"x":530,"y":45},{"t":17,"x":540,"y":53},{"t":17,"x":549,"y":57.5},{"t":17,"x":556,"y":55},{"t":17,"x":565,"y":45},{"t":17,"x":580,"y":38},{"t":17,"x":600,"y":35},{"t":17,"x":625,"y":32},{"t":17,"x":650,"y":36},{"t":17,"x":675,"y":34},{"t":17,"x":700,"y":38},{"t":17,"x":725,"y":35},{"t":17,"x":750,"y":32},{"t":17,"x":775,"y":36},{"t":17,"x":800,"y":40},{"t":17,"x":820,"y":35},{"t":17,"x":845,"y":32},{"t":17,"x":870,"y":35},{"t":17,"x":895,"y":31},{"t":17,"x":920,"y":36},{"t":17,"x":945,"y":39},{"t":17,"x":970,"y":35},{"t":17,"x":995,"y":32},{"t":17,"x":1020,"y":36},{"t":17,"x":1045,"y":33},{"t":17,"x":1070,"y":37},{"t":17,"x":1095,"y":44},{"t":17,"x":1115,"y":37},{"t":17,"x":1140,"y":33},{"t":17,"x":1165,"y":36},{"t":17,"x":1200,"y":34},
{"t":18,"x":0,"y":30},{"t":18,"x":30,"y":33},{"t":18,"x":55,"y":36},{"t":18,"x":80,"y":33},{"t":18,"x":105,"y":30},{"t":18,"x":130,"y":34},{"t":18,"x":155,"y":37},{"t":18,"x":180,"y":33},{"t":18,"x":205,"y":36},{"t":18,"x":230,"y":32},{"t":18,"x":255,"y":35},{"t":18,"x":280,"y":39},{"t":18,"x":305,"y":34},{"t":18,"x":330,"y":31},{"t":18,"x":355,"y":35},{"t":18,"x":380,"y":32},{"t":18,"x":405,"y":36},{"t":18,"x":430,"y":40},{"t":18,"x":455,"y":35},{"t":18,"x":480,"y":32},{"t":18,"x":505,"y":35},{"t":18,"x":530,"y":31},{"t":18,"x":555,"y":34},{"t":18,"x":570,"y":38},{"t":18,"x":580,"y":48},{"t":18,"x":590,"y":56},{"t":18,"x":596,"y":57.3},{"t":18,"x":602,"y":52},{"t":18,"x":612,"y":43},{"t":18,"x":630,"y":38},{"t":18,"x":650,"y":40},{"t":18,"x":665,"y":52},{"t":18,"x":675,"y":60},{"t":18,"x":682,"y":61.6},{"t":18,"x":690,"y":58},{"t":18,"x":700,"y":48},{"t":18,"x":715,"y":40},{"t":18,"x":735,"y":36},{"t":18,"x":760,"y":33},{"t":18,"x":785,"y":37},{"t":18,"x":810,"y":34},{"t":18,"x":835,"y":31},{"t":18,"x":860,"y":36},{"t":18,"x":885,"y":33},{"t":18,"x":910,"y":38},{"t":18,"x":935,"y":34},{"t":18,"x":960,"y":31},{"t":18,"x":985,"y":35},{"t":18,"x":1010,"y":38},{"t":18,"x":1035,"y":34},{"t":18,"x":1060,"y":31},{"t":18,"x":1085,"y":36},{"t":18,"x":1110,"y":40},{"t":18,"x":1135,"y":35},{"t":18,"x":1160,"y":32},{"t":18,"x":1185,"y":36},{"t":18,"x":1200,"y":34},
{"t":19,"x":0,"y":34},{"t":19,"x":30,"y":37},{"t":19,"x":55,"y":34},{"t":19,"x":80,"y":31},{"t":19,"x":105,"y":35},{"t":19,"x":130,"y":39},{"t":19,"x":155,"y":35},{"t":19,"x":180,"y":32},{"t":19,"x":205,"y":36},{"t":19,"x":230,"y":33},{"t":19,"x":255,"y":38},{"t":19,"x":280,"y":35},{"t":19,"x":305,"y":31},{"t":19,"x":330,"y":34},{"t":19,"x":355,"y":38},{"t":19,"x":380,"y":34},{"t":19,"x":405,"y":31},{"t":19,"x":430,"y":35},{"t":19,"x":455,"y":33},{"t":19,"x":480,"y":37},{"t":19,"x":505,"y":41},{"t":19,"x":530,"y":36},{"t":19,"x":555,"y":33},{"t":19,"x":580,"y":37},{"t":19,"x":605,"y":34},{"t":19,"x":630,"y":31},{"t":19,"x":655,"y":35},{"t":19,"x":680,"y":34},{"t":19,"x":710,"y":40},{"t":19,"x":725,"y":52},{"t":19,"x":735,"y":55.8},{"t":19,"x":742,"y":52},{"t":19,"x":752,"y":42},{"t":19,"x":770,"y":38},{"t":19,"x":795,"y":42},{"t":19,"x":808,"y":52},{"t":19,"x":817,"y":57.3},{"t":19,"x":824,"y":52},{"t":19,"x":835,"y":42},{"t":19,"x":855,"y":37},{"t":19,"x":875,"y":34},{"t":19,"x":900,"y":37},{"t":19,"x":925,"y":33},{"t":19,"x":950,"y":36},{"t":19,"x":975,"y":40},{"t":19,"x":1000,"y":35},{"t":19,"x":1025,"y":32},{"t":19,"x":1050,"y":36},{"t":19,"x":1075,"y":33},{"t":19,"x":1100,"y":37},{"t":19,"x":1125,"y":34},{"t":19,"x":1150,"y":31},{"t":19,"x":1175,"y":35},{"t":19,"x":1200,"y":33},
{"t":20,"x":0,"y":31},{"t":20,"x":30,"y":34},{"t":20,"x":55,"y":38},{"t":20,"x":80,"y":35},{"t":20,"x":105,"y":32},{"t":20,"x":130,"y":35},{"t":20,"x":155,"y":40},{"t":20,"x":180,"y":36},{"t":20,"x":205,"y":33},{"t":20,"x":230,"y":30},{"t":20,"x":255,"y":34},{"t":20,"x":280,"y":37},{"t":20,"x":305,"y":33},{"t":20,"x":330,"y":36},{"t":20,"x":355,"y":42},{"t":20,"x":375,"y":37},{"t":20,"x":400,"y":33},{"t":20,"x":425,"y":36},{"t":20,"x":450,"y":32},{"t":20,"x":475,"y":35},{"t":20,"x":500,"y":39},{"t":20,"x":525,"y":35},{"t":20,"x":550,"y":32},{"t":20,"x":575,"y":36},{"t":20,"x":600,"y":33},{"t":20,"x":625,"y":37},{"t":20,"x":650,"y":34},{"t":20,"x":680,"y":33},{"t":20,"x":715,"y":38},{"t":20,"x":735,"y":50},{"t":20,"x":745,"y":55},{"t":20,"x":752,"y":50},{"t":20,"x":765,"y":40},{"t":20,"x":785,"y":36},{"t":20,"x":810,"y":33},{"t":20,"x":835,"y":37},{"t":20,"x":860,"y":34},{"t":20,"x":880,"y":37},{"t":20,"x":900,"y":42},{"t":20,"x":915,"y":55},{"t":20,"x":929,"y":63.5},{"t":20,"x":936,"y":58},{"t":20,"x":945,"y":47},{"t":20,"x":960,"y":40},{"t":20,"x":980,"y":36},{"t":20,"x":1005,"y":33},{"t":20,"x":1030,"y":37},{"t":20,"x":1055,"y":34},{"t":20,"x":1080,"y":31},{"t":20,"x":1105,"y":35},{"t":20,"x":1130,"y":39},{"t":20,"x":1155,"y":35},{"t":20,"x":1180,"y":32},{"t":20,"x":1200,"y":35},
{"t":21,"x":0,"y":35},{"t":21,"x":30,"y":38},{"t":21,"x":55,"y":35},{"t":21,"x":80,"y":32},{"t":21,"x":105,"y":36},{"t":21,"x":130,"y":33},{"t":21,"x":155,"y":37},{"t":21,"x":180,"y":42},{"t":21,"x":200,"y":37},{"t":21,"x":225,"y":33},{"t":21,"x":250,"y":36},{"t":21,"x":275,"y":32},{"t":21,"x":300,"y":35},{"t":21,"x":325,"y":39},{"t":21,"x":350,"y":35},{"t":21,"x":375,"y":32},{"t":21,"x":400,"y":36},{"t":21,"x":425,"y":33},{"t":21,"x":450,"y":38},{"t":21,"x":475,"y":34},{"t":21,"x":500,"y":31},{"t":21,"x":525,"y":35},{"t":21,"x":550,"y":38},{"t":21,"x":575,"y":34},{"t":21,"x":600,"y":37},{"t":21,"x":625,"y":33},{"t":21,"x":650,"y":30},{"t":21,"x":675,"y":34},{"t":21,"x":700,"y":38},{"t":21,"x":725,"y":35},{"t":21,"x":750,"y":32},{"t":21,"x":775,"y":36},{"t":21,"x":800,"y":33},{"t":21,"x":825,"y":37},{"t":21,"x":850,"y":43},{"t":21,"x":870,"y":38},{"t":21,"x":895,"y":34},{"t":21,"x":920,"y":31},{"t":21,"x":945,"y":35},{"t":21,"x":970,"y":38},{"t":21,"x":1000,"y":38},{"t":21,"x":1030,"y":45},{"t":21,"x":1048,"y":55},{"t":21,"x":1058,"y":58.5},{"t":21,"x":1066,"y":52},{"t":21,"x":1072,"y":45},{"t":21,"x":1077,"y":61},{"t":21,"x":1080,"y":44},{"t":21,"x":1092,"y":38},{"t":21,"x":1115,"y":35},{"t":21,"x":1140,"y":38},{"t":21,"x":1165,"y":34},{"t":21,"x":1200,"y":36},
{"t":22,"x":0,"y":33},{"t":22,"x":30,"y":36},{"t":22,"x":55,"y":33},{"t":22,"x":80,"y":37},{"t":22,"x":105,"y":34},{"t":22,"x":130,"y":31},{"t":22,"x":155,"y":35},{"t":22,"x":180,"y":39},{"t":22,"x":205,"y":35},{"t":22,"x":230,"y":32},{"t":22,"x":255,"y":36},{"t":22,"x":280,"y":33},{"t":22,"x":305,"y":37},{"t":22,"x":330,"y":34},{"t":22,"x":355,"y":31},{"t":22,"x":380,"y":35},{"t":22,"x":405,"y":39},{"t":22,"x":430,"y":36},{"t":22,"x":455,"y":33},{"t":22,"x":480,"y":30},{"t":22,"x":505,"y":34},{"t":22,"x":530,"y":37},{"t":22,"x":555,"y":33},{"t":22,"x":580,"y":36},{"t":22,"x":605,"y":41},{"t":22,"x":625,"y":36},{"t":22,"x":650,"y":33},{"t":22,"x":675,"y":36},{"t":22,"x":700,"y":32},{"t":22,"x":725,"y":35},{"t":22,"x":750,"y":38},{"t":22,"x":775,"y":34},{"t":22,"x":800,"y":31},{"t":22,"x":825,"y":35},{"t":22,"x":850,"y":32},{"t":22,"x":875,"y":36},{"t":22,"x":900,"y":40},{"t":22,"x":925,"y":35},{"t":22,"x":950,"y":32},{"t":22,"x":975,"y":36},{"t":22,"x":1000,"y":33},{"t":22,"x":1025,"y":37},{"t":22,"x":1050,"y":35},{"t":22,"x":1070,"y":40},{"t":22,"x":1088,"y":54},{"t":22,"x":1101,"y":64},{"t":22,"x":1108,"y":58},{"t":22,"x":1118,"y":45},{"t":22,"x":1128,"y":42},{"t":22,"x":1138,"y":52},{"t":22,"x":1148,"y":61.5},{"t":22,"x":1155,"y":55},{"t":22,"x":1165,"y":44},{"t":22,"x":1180,"y":38},{"t":22,"x":1200,"y":36},
{"t":23,"x":0,"y":53},{"t":23,"x":8,"y":52},{"t":23,"x":15,"y":52.5},{"t":23,"x":25,"y":50},{"t":23,"x":35,"y":45},{"t":23,"x":50,"y":40},{"t":23,"x":75,"y":36},{"t":23,"x":110,"y":34},{"t":23,"x":150,"y":36},{"t":23,"x":190,"y":33},{"t":23,"x":230,"y":35},{"t":23,"x":270,"y":38},{"t":23,"x":310,"y":34},{"t":23,"x":350,"y":32},{"t":23,"x":390,"y":35},{"t":23,"x":430,"y":33},{"t":23,"x":470,"y":36},{"t":23,"x":510,"y":34},{"t":23,"x":550,"y":31},{"t":23,"x":590,"y":34},{"t":23,"x":630,"y":36},{"t":23,"x":670,"y":33},{"t":23,"x":710,"y":35},{"t":23,"x":750,"y":32},{"t":23,"x":790,"y":34},{"t":23,"x":830,"y":37},{"t":23,"x":870,"y":34},{"t":23,"x":910,"y":32},{"t":23,"x":950,"y":35},{"t":23,"x":990,"y":33},{"t":23,"x":1030,"y":36},{"t":23,"x":1070,"y":34},{"t":23,"x":1110,"y":31},{"t":23,"x":1150,"y":34},{"t":23,"x":1190,"y":36},{"t":23,"x":1200,"y":35},
{"t":24,"x":0,"y":48},{"t":24,"x":15,"y":44},{"t":24,"x":30,"y":40},{"t":24,"x":50,"y":37},{"t":24,"x":80,"y":44},{"t":24,"x":95,"y":50.5},{"t":24,"x":105,"y":46},{"t":24,"x":120,"y":40},{"t":24,"x":150,"y":36},{"t":24,"x":190,"y":34},{"t":24,"x":230,"y":37},{"t":24,"x":270,"y":34},{"t":24,"x":310,"y":32},{"t":24,"x":350,"y":35},{"t":24,"x":390,"y":38},{"t":24,"x":430,"y":35},{"t":24,"x":470,"y":33},{"t":24,"x":510,"y":36},{"t":24,"x":550,"y":34},{"t":24,"x":590,"y":31},{"t":24,"x":630,"y":35},{"t":24,"x":670,"y":33},{"t":24,"x":710,"y":36},{"t":24,"x":750,"y":34},{"t":24,"x":790,"y":32},{"t":24,"x":830,"y":35},{"t":24,"x":870,"y":33},{"t":24,"x":910,"y":31},{"t":24,"x":950,"y":34},{"t":24,"x":990,"y":36},{"t":24,"x":1030,"y":33},{"t":24,"x":1070,"y":35},{"t":24,"x":1110,"y":32},{"t":24,"x":1150,"y":34},{"t":24,"x":1200,"y":33},
{"t":25,"x":0,"y":33},{"t":25,"x":40,"y":35},{"t":25,"x":80,"y":32},{"t":25,"x":110,"y":40},{"t":25,"x":125,"y":48},{"t":25,"x":134,"y":51},{"t":25,"x":142,"y":48},{"t":25,"x":155,"y":40},{"t":25,"x":175,"y":38},{"t":25,"x":190,"y":45},{"t":25,"x":201,"y":49},{"t":25,"x":210,"y":44},{"t":25,"x":225,"y":38},{"t":25,"x":260,"y":35},{"t":25,"x":300,"y":37},{"t":25,"x":340,"y":34},{"t":25,"x":380,"y":36},{"t":25,"x":420,"y":33},{"t":25,"x":460,"y":35},{"t":25,"x":500,"y":38},{"t":25,"x":540,"y":35},{"t":25,"x":580,"y":33},{"t":25,"x":620,"y":36},{"t":25,"x":660,"y":34},{"t":25,"x":700,"y":31},{"t":25,"x":740,"y":34},{"t":25,"x":780,"y":36},{"t":25,"x":820,"y":33},{"t":25,"x":860,"y":35},{"t":25,"x":900,"y":32},{"t":25,"x":940,"y":34},{"t":25,"x":980,"y":37},{"t":25,"x":1020,"y":34},{"t":25,"x":1060,"y":32},{"t":25,"x":1100,"y":35},{"t":25,"x":1140,"y":38},{"t":25,"x":1180,"y":35},{"t":25,"x":1200,"y":37},
{"t":26,"x":0,"y":40},{"t":26,"x":15,"y":46.4},{"t":26,"x":25,"y":44},{"t":26,"x":40,"y":38},{"t":26,"x":60,"y":40},{"t":26,"x":75,"y":47},{"t":26,"x":86,"y":52},{"t":26,"x":95,"y":47},{"t":26,"x":110,"y":40},{"t":26,"x":140,"y":36},{"t":26,"x":180,"y":34},{"t":26,"x":220,"y":37},{"t":26,"x":260,"y":35},{"t":26,"x":300,"y":33},{"t":26,"x":340,"y":36},{"t":26,"x":380,"y":34},{"t":26,"x":420,"y":37},{"t":26,"x":460,"y":35},{"t":26,"x":500,"y":33},{"t":26,"x":540,"y":36},{"t":26,"x":580,"y":34},{"t":26,"x":620,"y":32},{"t":26,"x":660,"y":35},{"t":26,"x":700,"y":37},{"t":26,"x":740,"y":34},{"t":26,"x":780,"y":36},{"t":26,"x":820,"y":33},{"t":26,"x":860,"y":35},{"t":26,"x":900,"y":38},{"t":26,"x":940,"y":35},{"t":26,"x":980,"y":33},{"t":26,"x":1020,"y":36},{"t":26,"x":1060,"y":34},{"t":26,"x":1100,"y":37},{"t":26,"x":1140,"y":35},{"t":26,"x":1180,"y":33},{"t":26,"x":1200,"y":35},
{"t":27,"x":0,"y":32},{"t":27,"x":40,"y":34},{"t":27,"x":80,"y":36},{"t":27,"x":120,"y":33},{"t":27,"x":160,"y":31},{"t":27,"x":200,"y":34},{"t":27,"x":240,"y":36},{"t":27,"x":280,"y":33},{"t":27,"x":320,"y":35},{"t":27,"x":360,"y":37},{"t":27,"x":400,"y":34},{"t":27,"x":440,"y":36},{"t":27,"x":470,"y":42},{"t":27,"x":495,"y":48},{"t":27,"x":510,"y":50.5},{"t":27,"x":525,"y":45},{"t":27,"x":545,"y":40},{"t":27,"x":580,"y":36},{"t":27,"x":620,"y":34},{"t":27,"x":660,"y":37},{"t":27,"x":700,"y":35},{"t":27,"x":740,"y":33},{"t":27,"x":780,"y":36},{"t":27,"x":820,"y":34},{"t":27,"x":860,"y":32},{"t":27,"x":900,"y":35},{"t":27,"x":940,"y":37},{"t":27,"x":980,"y":34},{"t":27,"x":1010,"y":40},{"t":27,"x":1025,"y":50},{"t":27,"x":1035,"y":54},{"t":27,"x":1045,"y":50},{"t":27,"x":1060,"y":42},{"t":27,"x":1090,"y":38},{"t":27,"x":1120,"y":40},{"t":27,"x":1145,"y":50},{"t":27,"x":1160,"y":56.8},{"t":27,"x":1170,"y":50},{"t":27,"x":1180,"y":44},{"t":27,"x":1190,"y":50},{"t":27,"x":1198,"y":55.5},{"t":27,"x":1200,"y":54},
{"t":28,"x":0,"y":24.3},{"t":28,"x":30,"y":24.2},{"t":28,"x":55,"y":24.4},{"t":28,"x":70,"y":27},{"t":28,"x":90,"y":31},{"t":28,"x":110,"y":34},{"t":28,"x":130,"y":31},{"t":28,"x":148,"y":28},{"t":28,"x":157,"y":24.5},{"t":28,"x":166,"y":28},{"t":28,"x":200,"y":30},{"t":28,"x":240,"y":33},{"t":28,"x":280,"y":31},{"t":28,"x":320,"y":29},{"t":28,"x":360,"y":31},{"t":28,"x":400,"y":33},{"t":28,"x":440,"y":30},{"t":28,"x":480,"y":29},{"t":28,"x":520,"y":31},{"t":28,"x":560,"y":33},{"t":28,"x":600,"y":30},{"t":28,"x":640,"y":29},{"t":28,"x":680,"y":31},{"t":28,"x":720,"y":30},{"t":28,"x":760,"y":32},{"t":28,"x":800,"y":30},{"t":28,"x":840,"y":29},{"t":28,"x":880,"y":31},{"t":28,"x":920,"y":33},{"t":28,"x":960,"y":30},{"t":28,"x":1000,"y":29},{"t":28,"x":1040,"y":31},{"t":28,"x":1080,"y":30},{"t":28,"x":1120,"y":29},{"t":28,"x":1160,"y":31},{"t":28,"x":1200,"y":30},
{"t":29,"x":0,"y":29.5},{"t":29,"x":40,"y":28},{"t":29,"x":80,"y":26.5},{"t":29,"x":120,"y":25.3},{"t":29,"x":160,"y":24.7},{"t":29,"x":200,"y":24.3},{"t":29,"x":240,"y":23.9},{"t":29,"x":280,"y":23.5},{"t":29,"x":310,"y":23.3},{"t":29,"x":325,"y":23.2},{"t":29,"x":332,"y":25},{"t":29,"x":340,"y":30},{"t":29,"x":355,"y":34},{"t":29,"x":380,"y":33},{"t":29,"x":420,"y":31},{"t":29,"x":460,"y":30},{"t":29,"x":500,"y":32},{"t":29,"x":540,"y":34},{"t":29,"x":580,"y":32},{"t":29,"x":620,"y":30},{"t":29,"x":660,"y":31},{"t":29,"x":700,"y":33},{"t":29,"x":740,"y":31},{"t":29,"x":780,"y":29},{"t":29,"x":820,"y":30},{"t":29,"x":860,"y":32},{"t":29,"x":900,"y":30},{"t":29,"x":940,"y":29},{"t":29,"x":980,"y":31},{"t":29,"x":1020,"y":33},{"t":29,"x":1060,"y":31},{"t":29,"x":1100,"y":30},{"t":29,"x":1140,"y":32},{"t":29,"x":1180,"y":30},{"t":29,"x":1200,"y":31},
{"t":30,"x":0,"y":33},{"t":30,"x":40,"y":31},{"t":30,"x":80,"y":29},{"t":30,"x":120,"y":30},{"t":30,"x":160,"y":32},{"t":30,"x":200,"y":30},{"t":30,"x":240,"y":29},{"t":30,"x":280,"y":31},{"t":30,"x":320,"y":30},{"t":30,"x":360,"y":29},{"t":30,"x":400,"y":28},{"t":30,"x":430,"y":27},{"t":30,"x":460,"y":25.5},{"t":30,"x":490,"y":24.3},{"t":30,"x":515,"y":23.8},{"t":30,"x":520,"y":22},{"t":30,"x":524,"y":21.3},{"t":30,"x":528,"y":23.5},{"t":30,"x":540,"y":24.8},{"t":30,"x":555,"y":26},{"t":30,"x":570,"y":25},{"t":30,"x":600,"y":24.8},{"t":30,"x":630,"y":24.9},{"t":30,"x":660,"y":25},{"t":30,"x":700,"y":25.4},{"t":30,"x":740,"y":26},{"t":30,"x":770,"y":27},{"t":30,"x":800,"y":28},{"t":30,"x":840,"y":29},{"t":30,"x":880,"y":28},{"t":30,"x":920,"y":30},{"t":30,"x":960,"y":29},{"t":30,"x":1000,"y":28},{"t":30,"x":1040,"y":29},{"t":30,"x":1080,"y":30},{"t":30,"x":1120,"y":29},{"t":30,"x":1160,"y":30},{"t":30,"x":1200,"y":30},
{"t":31,"x":0,"y":30},{"t":31,"x":40,"y":32},{"t":31,"x":80,"y":29},{"t":31,"x":120,"y":31},{"t":31,"x":160,"y":33},{"t":31,"x":200,"y":30},{"t":31,"x":240,"y":28},{"t":31,"x":280,"y":30},{"t":31,"x":320,"y":32},{"t":31,"x":360,"y":29},{"t":31,"x":400,"y":31},{"t":31,"x":440,"y":33},{"t":31,"x":480,"y":30},{"t":31,"x":520,"y":28},{"t":31,"x":560,"y":31},{"t":31,"x":600,"y":29},{"t":31,"x":640,"y":30},{"t":31,"x":680,"y":32},{"t":31,"x":720,"y":30},{"t":31,"x":760,"y":28},{"t":31,"x":800,"y":31},{"t":31,"x":840,"y":32},{"t":31,"x":870,"y":30},{"t":31,"x":895,"y":27.5},{"t":31,"x":915,"y":25.5},{"t":31,"x":935,"y":24.6},{"t":31,"x":960,"y":24.3},{"t":31,"x":990,"y":24.5},{"t":31,"x":1005,"y":25.5},{"t":31,"x":1020,"y":26.5},{"t":31,"x":1040,"y":26.2},{"t":31,"x":1060,"y":27},{"t":31,"x":1080,"y":30},{"t":31,"x":1100,"y":33},{"t":31,"x":1140,"y":31},{"t":31,"x":1180,"y":30},{"t":31,"x":1200,"y":31},
{"t":32,"x":0,"y":27.8},{"t":32,"x":40,"y":27},{"t":32,"x":80,"y":26.7},{"t":32,"x":120,"y":26.4},{"t":32,"x":160,"y":26.2},{"t":32,"x":200,"y":26},{"t":32,"x":240,"y":26},{"t":32,"x":280,"y":26.3},{"t":32,"x":320,"y":27},{"t":32,"x":360,"y":27.3},{"t":32,"x":400,"y":27.6},{"t":32,"x":440,"y":27.8},{"t":32,"x":480,"y":28},{"t":32,"x":520,"y":28.2},{"t":32,"x":560,"y":28.5},{"t":32,"x":600,"y":28.4},{"t":32,"x":640,"y":28.3},{"t":32,"x":680,"y":28},{"t":32,"x":720,"y":27.6},{"t":32,"x":760,"y":27.3},{"t":32,"x":800,"y":27},{"t":32,"x":840,"y":27},{"t":32,"x":880,"y":27.2},{"t":32,"x":920,"y":28},{"t":32,"x":960,"y":29},{"t":32,"x":1000,"y":29.5},{"t":32,"x":1040,"y":29.3},{"t":32,"x":1080,"y":29.6},{"t":32,"x":1120,"y":29.4},{"t":32,"x":1160,"y":29.8},{"t":32,"x":1200,"y":30},
{"t":33,"x":0,"y":31},{"t":33,"x":30,"y":29},{"t":33,"x":60,"y":27},{"t":33,"x":90,"y":26},{"t":33,"x":120,"y":25.6},{"t":33,"x":150,"y":25.4},{"t":33,"x":180,"y":25.2},{"t":33,"x":210,"y":25.5},{"t":33,"x":240,"y":26},{"t":33,"x":270,"y":26.4},{"t":33,"x":300,"y":27},{"t":33,"x":330,"y":28},{"t":33,"x":360,"y":30},{"t":33,"x":400,"y":33},{"t":33,"x":440,"y":31},{"t":33,"x":480,"y":30},{"t":33,"x":520,"y":32},{"t":33,"x":560,"y":34},{"t":33,"x":600,"y":31},{"t":33,"x":640,"y":30},{"t":33,"x":680,"y":32},{"t":33,"x":720,"y":30},{"t":33,"x":760,"y":29},{"t":33,"x":800,"y":31},{"t":33,"x":840,"y":33},{"t":33,"x":880,"y":31},{"t":33,"x":920,"y":30},{"t":33,"x":960,"y":32},{"t":33,"x":1000,"y":31},{"t":33,"x":1040,"y":30},{"t":33,"x":1058,"y":28},{"t":33,"x":1065,"y":25},{"t":33,"x":1072,"y":28},{"t":33,"x":1090,"y":32},{"t":33,"x":1120,"y":31},{"t":33,"x":1160,"y":33},{"t":33,"x":1200,"y":31},
{"t":34,"x":0,"y":30},{"t":34,"x":40,"y":32},{"t":34,"x":80,"y":30},{"t":34,"x":120,"y":29},{"t":34,"x":160,"y":31},{"t":34,"x":200,"y":33},{"t":34,"x":240,"y":31},{"t":34,"x":280,"y":30},{"t":34,"x":320,"y":29},{"t":34,"x":360,"y":28},{"t":34,"x":400,"y":27.6},{"t":34,"x":440,"y":27.5},{"t":34,"x":480,"y":27.6},{"t":34,"x":520,"y":27.8},{"t":34,"x":560,"y":28},{"t":34,"x":600,"y":28.2},{"t":34,"x":640,"y":28},{"t":34,"x":680,"y":28.3},{"t":34,"x":720,"y":29},{"t":34,"x":760,"y":30},{"t":34,"x":800,"y":29.5},{"t":34,"x":840,"y":29},{"t":34,"x":880,"y":30},{"t":34,"x":920,"y":31},{"t":34,"x":960,"y":30.5},{"t":34,"x":1000,"y":30},{"t":34,"x":1040,"y":30.5},{"t":34,"x":1080,"y":31},{"t":34,"x":1120,"y":31.5},{"t":34,"x":1160,"y":31},{"t":34,"x":1200,"y":31.5},
{"t":35,"x":0,"y":28},{"t":35,"x":40,"y":30},{"t":35,"x":80,"y":32},{"t":35,"x":120,"y":29},{"t":35,"x":160,"y":27.5},{"t":35,"x":200,"y":29},{"t":35,"x":240,"y":31},{"t":35,"x":280,"y":28.5},{"t":35,"x":320,"y":27.5},{"t":35,"x":360,"y":30},{"t":35,"x":400,"y":32},{"t":35,"x":440,"y":29},{"t":35,"x":480,"y":28},{"t":35,"x":520,"y":30},{"t":35,"x":560,"y":31},{"t":35,"x":600,"y":28.5},{"t":35,"x":640,"y":27.5},{"t":35,"x":680,"y":29.5},{"t":35,"x":720,"y":31},{"t":35,"x":760,"y":29},{"t":35,"x":800,"y":27.5},{"t":35,"x":840,"y":29},{"t":35,"x":880,"y":30},{"t":35,"x":892,"y":25.5},{"t":35,"x":902,"y":29},{"t":35,"x":920,"y":28.5},{"t":35,"x":960,"y":27},{"t":35,"x":1000,"y":29},{"t":35,"x":1040,"y":31},{"t":35,"x":1080,"y":28},{"t":35,"x":1120,"y":26.5},{"t":35,"x":1160,"y":28},{"t":35,"x":1200,"y":30},
{"t":36,"x":0,"y":33.2},{"t":36,"x":60,"y":33},{"t":36,"x":120,"y":32.8},{"t":36,"x":180,"y":33.4},{"t":36,"x":240,"y":33.2},{"t":36,"x":300,"y":33.6},{"t":36,"x":360,"y":33.3},{"t":36,"x":420,"y":33.8},{"t":36,"x":480,"y":33.5},{"t":36,"x":540,"y":33.2},{"t":36,"x":600,"y":33.7},{"t":36,"x":660,"y":33.4},{"t":36,"x":720,"y":33.1},{"t":36,"x":780,"y":33.6},{"t":36,"x":840,"y":33.3},{"t":36,"x":900,"y":33.9},{"t":36,"x":960,"y":33.5},{"t":36,"x":1020,"y":33.2},{"t":36,"x":1080,"y":33.6},{"t":36,"x":1140,"y":33.4},{"t":36,"x":1200,"y":33.8},
{"t":37,"x":0,"y":34.5},{"t":37,"x":60,"y":34.3},{"t":37,"x":120,"y":34},{"t":37,"x":180,"y":34.4},{"t":37,"x":240,"y":34.1},{"t":37,"x":300,"y":33.9},{"t":37,"x":360,"y":34.3},{"t":37,"x":420,"y":34.6},{"t":37,"x":480,"y":34.2},{"t":37,"x":540,"y":34},{"t":37,"x":600,"y":34.4},{"t":37,"x":660,"y":34.2},{"t":37,"x":720,"y":33.9},{"t":37,"x":780,"y":34.3},{"t":37,"x":840,"y":34.6},{"t":37,"x":900,"y":34.2},{"t":37,"x":960,"y":34},{"t":37,"x":1020,"y":34.5},{"t":37,"x":1080,"y":34.3},{"t":37,"x":1140,"y":34},{"t":37,"x":1200,"y":34.3},
{"t":38,"x":0,"y":33},{"t":38,"x":60,"y":32.5},{"t":38,"x":120,"y":32},{"t":38,"x":180,"y":31.5},{"t":38,"x":240,"y":31.3},{"t":38,"x":300,"y":31},{"t":38,"x":360,"y":31.2},{"t":38,"x":420,"y":30.8},{"t":38,"x":480,"y":30.5},{"t":38,"x":540,"y":30.7},{"t":38,"x":600,"y":30.4},{"t":38,"x":660,"y":30.6},{"t":38,"x":720,"y":30.3},{"t":38,"x":780,"y":30.5},{"t":38,"x":840,"y":30.8},{"t":38,"x":900,"y":30.6},{"t":38,"x":960,"y":30.9},{"t":38,"x":1020,"y":31.1},{"t":38,"x":1080,"y":30.8},{"t":38,"x":1140,"y":31},{"t":38,"x":1200,"y":31.2},
{"t":39,"x":0,"y":40},{"t":39,"x":30,"y":38},{"t":39,"x":60,"y":42},{"t":39,"x":90,"y":37},{"t":39,"x":120,"y":43},{"t":39,"x":150,"y":38},{"t":39,"x":180,"y":35},{"t":39,"x":210,"y":40},{"t":39,"x":240,"y":44},{"t":39,"x":270,"y":39},{"t":39,"x":300,"y":36},{"t":39,"x":330,"y":41},{"t":39,"x":360,"y":45},{"t":39,"x":390,"y":40},{"t":39,"x":420,"y":37},{"t":39,"x":450,"y":42},{"t":39,"x":480,"y":39},{"t":39,"x":510,"y":44},{"t":39,"x":540,"y":38},{"t":39,"x":570,"y":36},{"t":39,"x":600,"y":41},{"t":39,"x":630,"y":44},{"t":39,"x":660,"y":39},{"t":39,"x":690,"y":37},{"t":39,"x":720,"y":42},{"t":39,"x":750,"y":39},{"t":39,"x":780,"y":43},{"t":39,"x":810,"y":38},{"t":39,"x":840,"y":36},{"t":39,"x":870,"y":41},{"t":39,"x":900,"y":45},{"t":39,"x":930,"y":40},{"t":39,"x":960,"y":37},{"t":39,"x":990,"y":42},{"t":39,"x":1020,"y":39},{"t":39,"x":1050,"y":43},{"t":39,"x":1080,"y":38},{"t":39,"x":1110,"y":41},{"t":39,"x":1140,"y":44},{"t":39,"x":1170,"y":39},{"t":39,"x":1200,"y":41},
{"t":40,"x":0,"y":36},{"t":40,"x":30,"y":41},{"t":40,"x":60,"y":38},{"t":40,"x":90,"y":44},{"t":40,"x":120,"y":36},{"t":40,"x":150,"y":40},{"t":40,"x":180,"y":34},{"t":40,"x":210,"y":38},{"t":40,"x":240,"y":46},{"t":40,"x":270,"y":40},{"t":40,"x":300,"y":35},{"t":40,"x":330,"y":43},{"t":40,"x":360,"y":38},{"t":40,"x":390,"y":44},{"t":40,"x":420,"y":36},{"t":40,"x":450,"y":48},{"t":40,"x":480,"y":40},{"t":40,"x":510,"y":37},{"t":40,"x":540,"y":45},{"t":40,"x":570,"y":39},{"t":40,"x":600,"y":35},{"t":40,"x":630,"y":43},{"t":40,"x":660,"y":38},{"t":40,"x":690,"y":46},{"t":40,"x":720,"y":40},{"t":40,"x":750,"y":35},{"t":40,"x":780,"y":42},{"t":40,"x":810,"y":37},{"t":40,"x":840,"y":44},{"t":40,"x":870,"y":38},{"t":40,"x":900,"y":47},{"t":40,"x":930,"y":40},{"t":40,"x":960,"y":36},{"t":40,"x":990,"y":45},{"t":40,"x":1020,"y":39},{"t":40,"x":1050,"y":48},{"t":40,"x":1080,"y":40},{"t":40,"x":1110,"y":36},{"t":40,"x":1140,"y":44},{"t":40,"x":1170,"y":38},{"t":40,"x":1200,"y":42}
]},
"layer":[
{"mark":{"type":"line","stroke":"#0000ff","strokeOpacity":0.1,"strokeWidth":4,"interpolate":"monotone"},
 "encoding":{
  "x":{"field":"x","type":"quantitative","scale":{"domain":[0,1200],"nice":false,"zero":false},
   "axis":{"orient":"bottom","title":"Observation number","values":[0,200,400,600,800,1000,1200],"format":"d","grid":false,"domain":false,"offset":-17,"tickSize":17,"tickWidth":2,"tickColor":"black","labelPadding":13,"labelFontSize":50,"labelFont":"DejaVu Sans","labelColor":"black","labelFlush":false,"labelOverlap":false,"titleFontSize":50,"titleFont":"DejaVu Sans","titleFontWeight":"normal","titleColor":"black","titleBaseline":"alphabetic","titlePadding":50}},
  "y":{"field":"y","type":"quantitative","scale":{"domain":[20,90],"nice":false,"zero":false},
   "axis":{"orient":"left","title":"P1","values":[20,30,40,50,60,70,80,90],"format":"d","grid":false,"domain":false,"offset":-17,"tickSize":17,"tickWidth":2,"tickColor":"black","labelPadding":15,"labelFontSize":50,"labelFont":"DejaVu Sans","labelColor":"black","labelFlush":false,"labelOverlap":false,"titleFontSize":50,"titleFont":"DejaVu Sans","titleFontWeight":"normal","titleColor":"black","titleBaseline":"alphabetic","titlePadding":18}},
  "detail":{"field":"t","type":"nominal"}
 }},
{"transform":[{"filter":"datum.t == 1"}],
 "mark":{"type":"line","stroke":"#0000ff","strokeOpacity":0},
 "encoding":{
  "x":{"field":"x","type":"quantitative","scale":{"domain":[0,1200],"nice":false,"zero":false},
   "axis":{"orient":"top","title":null,"labels":false,"values":[0,200,400,600,800,1000,1200],"grid":false,"domain":false,"offset":-17,"tickSize":17,"tickWidth":2,"tickColor":"black"}},
  "y":{"field":"y","type":"quantitative","scale":{"domain":[20,90],"nice":false,"zero":false},
   "axis":{"orient":"right","title":null,"labels":false,"values":[20,30,40,50,60,70,80,90],"grid":false,"domain":false,"offset":-17,"tickSize":17,"tickWidth":2,"tickColor":"black"}}
 }}
],
"resolve":{"axis":{"x":"independent","y":"independent"}}
}
